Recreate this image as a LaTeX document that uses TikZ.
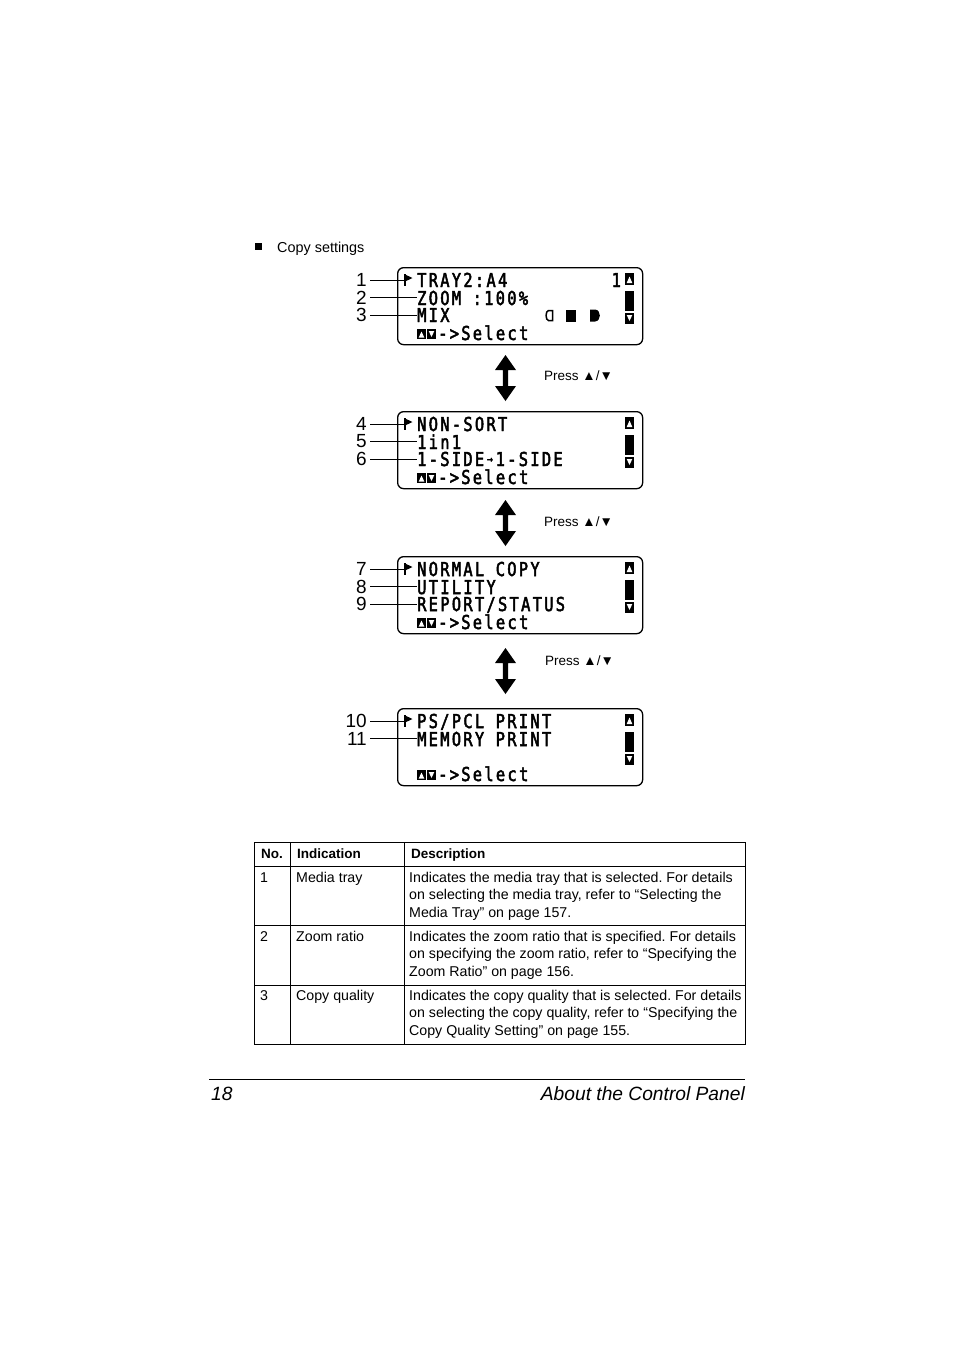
\documentclass[tikz,border=0pt]{standalone}
\usepackage{fontspec}
\setmainfont{Liberation Sans}
\newfontfamily\lcdfont[FakeStretch=0.8,LetterSpace=12,FakeBold=2.5]{DejaVu Sans Mono}
\frenchspacing
\tikzset{
  lcd/.style={font=\lcdfont\fontsize{19.2}{20}\selectfont, anchor=base west, inner sep=0pt},
  num/.style={font=\fontsize{19}{20}\selectfont, anchor=east, inner sep=0pt},
  lcdbox/.style={draw, line width=1.3pt, rounded corners=6pt, minimum width=245pt, minimum height=77pt, anchor=north west, inner sep=0pt},
  call/.style={line width=0.8pt},
  press/.style={font=\fontsize{13.5}{15}\selectfont, anchor=base west, inner sep=0pt},
  tb/.style={font=\fontsize{14.2}{16}\selectfont, anchor=base west, inner sep=0pt},
  th/.style={font=\bfseries\fontsize{13.5}{16}\selectfont, anchor=base west, inner sep=0pt},
  foot/.style={font=\itshape\fontsize{19.2}{22}\selectfont, inner sep=0pt},
  rule/.style={line width=0.8pt},
}
\newcommand{\lcdscroll}{%
  \fill (625,6) rectangle (634,18);
  \fill[white] (629.5,9.5) -- (632.3,16) -- (626.7,16) -- cycle;
  \fill (625,24) rectangle (634,44);
  \fill (625,46) rectangle (634,57);
  \fill[white] (629.5,54) -- (632.3,48) -- (626.7,48) -- cycle;
  \fill (417,62) rectangle (426,72);
  \fill[white] (421.5,64.5) -- (424.3,70.5) -- (418.7,70.5) -- cycle;
  \fill (427,62) rectangle (436,72);
  \fill[white] (431.5,70) -- (434.3,64) -- (428.7,64) -- cycle;
}
\newcommand{\lcdmark}{%
  \draw[line width=1.6pt] (404.8,7) -- (404.8,18.5);
  \fill (404,7) -- (412.5,11) -- (404,15) -- cycle;
}
\newcommand{\dblarrow}[1]{%
  \fill (505.5,#1) -- (516,#1+15) -- (508.2,#1+15) -- (508.2,#1+31) -- (516,#1+31) -- (505.5,#1+46)
     -- (495,#1+31) -- (502.8,#1+31) -- (502.8,#1+15) -- (495,#1+15) -- cycle;
}
\begin{document}
\begin{tikzpicture}[x=1pt,y=-1pt]
\useasboundingbox (0,0) rectangle (954,1350);
\fill[white] (0,0) rectangle (954,1350);

% heading
\fill (255,243) rectangle (262,250);
\node[tb, font=\fontsize{14.4}{16}\selectfont] (head) at (277,252) {Copy settings};

% ---------- box 1 ----------
\begin{scope}[shift={(0,267)}]
  \node[lcdbox] (b1) at (397,0) {};
  \lcdmark
  \node[lcd] (t1a) at (417,20) {TRAY2:A4};
  \node[lcd] (t1b) at (417,38) {ZOOM :100\%};
  \node[lcd] (t1c) at (417,55) {MIX};
  \node[lcd] (t1d) at (438,73) {->Select};
  \node[lcd] (t1e) at (611.5,20) {1};
  \lcdscroll
  % quality icons
  \draw[line width=1.5pt] (552.5,43.5) -- (548.5,43.5) .. controls (545.3,43.5) and (545.3,53.5) .. (548.5,53.5) -- (552.5,53.5) -- cycle;
  \fill (566,42.5) rectangle (576,54.5);
  \fill (590,42.5) -- (595,42.5) .. controls (601.5,43) and (601.5,54) .. (595,54.5) -- (590,54.5) -- cycle;
  \node[num] (n1) at (367,13) {1};
  \node[num] (n2) at (367,30.5) {2};
  \node[num] (n3) at (367,48) {3};
  \draw[call] ([xshift=3pt]n1.east) -- (404,13);
  \draw[call] ([xshift=3pt]n2.east) -- (n2.east -| t1b.west);
  \draw[call] ([xshift=3pt]n3.east) -- (n3.east -| t1c.west);
\end{scope}

\dblarrow{355}
\node[press] (p1) at (544,380) {Press ▲/▼};

% ---------- box 2 ----------
\begin{scope}[shift={(0,411)}]
  \node[lcdbox] (b2) at (397,0) {};
  \lcdmark
  \node[lcd] (t2a) at (417,20) {NON-SORT};
  \node[lcd] (t2b) at (417,38) {1in1};
  \node[lcd] (t2c) at (417,55) {1-SIDE\makebox[11.5pt]{\raisebox{3pt}{\fontsize{12}{12}\selectfont →}}1-SIDE};
  \node[lcd] (t2d) at (438,73) {->Select};
  \lcdscroll
  \node[num] (n4) at (367,13) {4};
  \node[num] (n5) at (367,30.5) {5};
  \node[num] (n6) at (367,48) {6};
  \draw[call] ([xshift=3pt]n4.east) -- (404,13);
  \draw[call] ([xshift=3pt]n5.east) -- (n5.east -| t2b.west);
  \draw[call] ([xshift=3pt]n6.east) -- (n6.east -| t2c.west);
\end{scope}

\dblarrow{500}
\node[press] (p2) at (544,526) {Press ▲/▼};

% ---------- box 3 ----------
\begin{scope}[shift={(0,556)}]
  \node[lcdbox] (b3) at (397,0) {};
  \lcdmark
  \node[lcd] (t3a) at (417,20) {NORMAL COPY};
  \node[lcd] (t3b) at (417,38) {UTILITY};
  \node[lcd] (t3c) at (417,55) {REPORT/STATUS};
  \node[lcd] (t3d) at (438,73) {->Select};
  \lcdscroll
  \node[num] (n7) at (367,13) {7};
  \node[num] (n8) at (367,30.5) {8};
  \node[num] (n9) at (367,48) {9};
  \draw[call] ([xshift=3pt]n7.east) -- (404,13);
  \draw[call] ([xshift=3pt]n8.east) -- (n8.east -| t3b.west);
  \draw[call] ([xshift=3pt]n9.east) -- (n9.east -| t3c.west);
\end{scope}

\dblarrow{648}
\node[press] (p3) at (545,665) {Press ▲/▼};

% ---------- box 4 ----------
\begin{scope}[shift={(0,708)}]
  \node[lcdbox] (b4) at (397,0) {};
  \lcdmark
  \node[lcd] (t4a) at (417,20) {PS/PCL PRINT};
  \node[lcd] (t4b) at (417,38) {MEMORY PRINT};
  \node[lcd] (t4d) at (438,73) {->Select};
  \lcdscroll
  \node[num] (n10) at (367,13) {10};
  \node[num] (n11) at (367,30.5) {11};
  \draw[call] ([xshift=3pt]n10.east) -- (404,13);
  \draw[call] ([xshift=3pt]n11.east) -- (n11.east -| t4b.west);
\end{scope}

% ---------- table ----------
\draw[rule] (254,842) rectangle (745,1044);
\draw[rule] (254,866) -- (745,866);
\draw[rule] (254,925) -- (745,925);
\draw[rule] (254,985) -- (745,985);
\draw[rule] (290,842) -- (290,1044);
\draw[rule] (404,842) -- (404,1044);

\node[th] (h1) at (261,858) {No.};
\node[th] (h2) at (297,858) {Indication};
\node[th] (h3) at (411,858) {Description};

\node[tb] (r1a) at (260,882) {1};
\node[tb] (r1b) at (296,882) {Media tray};
\node[tb] (r1c) at (409,882) {Indicates the media tray that is selected. For details};
\node[tb] (r1d) at (409,899.5) {on selecting the media tray, refer to “Selecting the};
\node[tb] (r1e) at (409,917) {Media Tray” on page 157.};

\node[tb] (r2a) at (260,941) {2};
\node[tb] (r2b) at (296,941) {Zoom ratio};
\node[tb] (r2c) at (409,941) {Indicates the zoom ratio that is specified. For details};
\node[tb] (r2d) at (409,958.5) {on specifying the zoom ratio, refer to “Specifying the};
\node[tb] (r2e) at (409,976) {Zoom Ratio” on page 156.};

\node[tb] (r3a) at (260,1000) {3};
\node[tb] (r3b) at (296,1000) {Copy quality};
\node[tb] (r3c) at (409,1000) {Indicates the copy quality that is selected. For details};
\node[tb] (r3d) at (409,1017.5) {on selecting the copy quality, refer to “Specifying the};
\node[tb] (r3e) at (409,1035) {Copy Quality Setting” on page 155.};

% ---------- footer ----------
\draw[rule] (209,1079) -- (745,1079);
\node[foot, anchor=base west] (pg) at (211,1100) {18};
\node[foot, anchor=base east] (ft) at (745,1100) {About the Control Panel};
\end{tikzpicture}
\end{document}
